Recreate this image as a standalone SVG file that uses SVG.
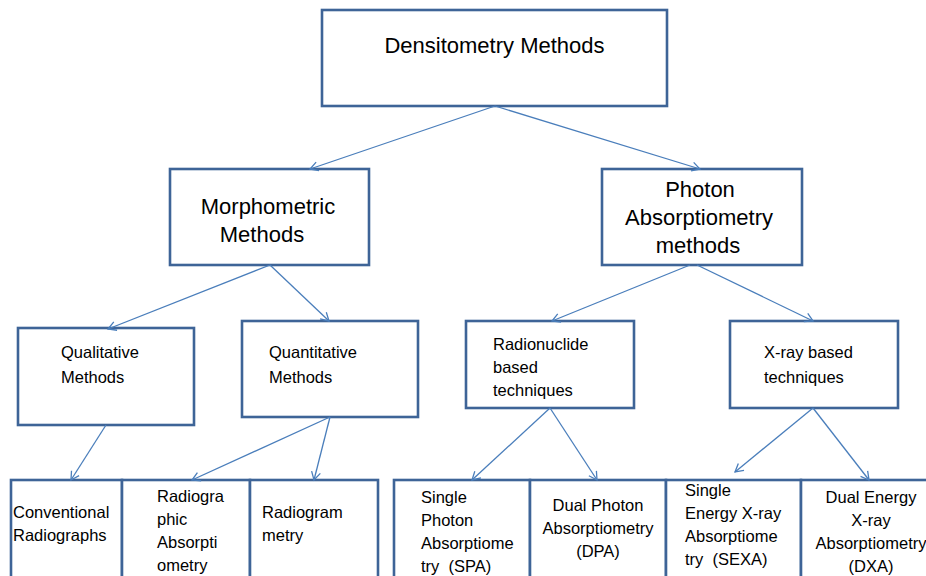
<svg xmlns="http://www.w3.org/2000/svg" width="926" height="576" viewBox="0 0 926 576">
<defs>
<style>
.box{fill:#fff;stroke:#3E6497;stroke-width:2.6}
.big{font-family:"Liberation Sans",Arial,sans-serif;font-size:22px;fill:#000}
.sm{font-family:"Liberation Sans",Arial,sans-serif;font-size:16.5px;fill:#000}
.c{text-anchor:middle}
.conn line{stroke:#4A7EBB;stroke-width:1.3;marker-end:url(#ah)}
</style>
<marker id="ah" markerUnits="userSpaceOnUse" markerWidth="12" markerHeight="12" refX="9" refY="5" orient="auto" viewBox="0 0 12 10">
<path d="M1,0.5 L9,5 L1,9.5" fill="none" stroke="#4A7EBB" stroke-width="1.3"/>
</marker>
</defs>
<rect width="926" height="576" fill="#fff"/>
<g id="densitometry"><rect class="box" x="322" y="10" width="345" height="96"/><text class="big c" x="494.5" y="53">Densitometry Methods</text></g>
<g id="morphometric"><rect class="box" x="170" y="169" width="199" height="96"/><text class="big c" x="268" y="214">Morphometric</text><text class="big c" x="262" y="242">Methods</text></g>
<g id="photon"><rect class="box" x="602" y="169" width="200" height="96"/><text class="big c" x="700" y="197">Photon</text><text class="big c" x="699" y="225">Absorptiometry</text><text class="big c" x="698" y="253">methods</text></g>
<g id="qualitative"><rect class="box" x="18" y="328" width="176" height="97"/><text class="sm" x="61" y="358">Qualitative</text><text class="sm" x="61" y="383">Methods</text></g>
<g id="quantitative"><rect class="box" x="242" y="321" width="176" height="96"/><text class="sm" x="269" y="358">Quantitative</text><text class="sm" x="269" y="383">Methods</text></g>
<g id="radionuclide"><rect class="box" x="466" y="321" width="168" height="87"/><text class="sm" x="493" y="350">Radionuclide</text><text class="sm" x="493" y="373">based</text><text class="sm" x="493" y="396">techniques</text></g>
<g id="xray"><rect class="box" x="730" y="321" width="168" height="87"/><text class="sm" x="764" y="358">X-ray based</text><text class="sm" x="764" y="383">techniques</text></g>
<g id="conventional"><rect class="box" x="11" y="480" width="111" height="100"/><text class="sm" x="13" y="518">Conventional</text><text class="sm" x="13" y="541">Radiographs</text></g>
<g id="radiographic"><rect class="box" x="122" y="480" width="128" height="100"/><text class="sm" x="157" y="502">Radiogra</text><text class="sm" x="157" y="525">phic</text><text class="sm" x="157" y="548">Absorpti</text><text class="sm" x="157" y="571">ometry</text></g>
<g id="radiogrammetry"><rect class="box" x="250" y="480" width="128" height="100"/><text class="sm" x="262" y="518">Radiogram</text><text class="sm" x="262" y="541">metry</text></g>
<g id="spa"><rect class="box" x="394" y="480" width="136" height="100"/><text class="sm" x="421" y="503">Single</text><text class="sm" x="421" y="526">Photon</text><text class="sm" x="421" y="549">Absorptiome</text><text class="sm" x="421" y="572" xml:space="preserve">try  (SPA)</text></g>
<g id="dpa"><rect class="box" x="530" y="480" width="136" height="100"/><text class="sm c" x="598" y="511">Dual Photon</text><text class="sm c" x="598" y="534">Absorptiometry</text><text class="sm c" x="598" y="557">(DPA)</text></g>
<g id="sexa"><rect class="box" x="666" y="480" width="135" height="100"/><text class="sm" x="685" y="496">Single</text><text class="sm" x="685" y="519">Energy X-ray</text><text class="sm" x="685" y="542">Absorptiome</text><text class="sm" x="685" y="565" xml:space="preserve">try  (SEXA)</text></g>
<g id="dxa"><rect class="box" x="801" y="480" width="135" height="100"/><text class="sm c" x="871" y="503">Dual Energy</text><text class="sm c" x="871" y="526">X-ray</text><text class="sm c" x="871" y="549">Absorptiometry</text><text class="sm c" x="871" y="572">(DXA)</text></g>
<g id="connectors" class="conn">
<line x1="495" y1="106" x2="310" y2="169"/>
<line x1="495" y1="106" x2="700" y2="169"/>
<line x1="270" y1="265" x2="108" y2="329"/>
<line x1="270" y1="265" x2="329" y2="321"/>
<line x1="690" y1="265" x2="552" y2="321"/>
<line x1="697" y1="265" x2="813" y2="321"/>
<line x1="106" y1="425" x2="71" y2="480"/>
<line x1="330" y1="417" x2="192" y2="480"/>
<line x1="330" y1="417" x2="314" y2="480"/>
<line x1="550" y1="408" x2="472" y2="480"/>
<line x1="550" y1="408" x2="597" y2="480"/>
<line x1="813" y1="408" x2="735" y2="472"/>
<line x1="813" y1="408" x2="869" y2="480"/>
</g>
</svg>
